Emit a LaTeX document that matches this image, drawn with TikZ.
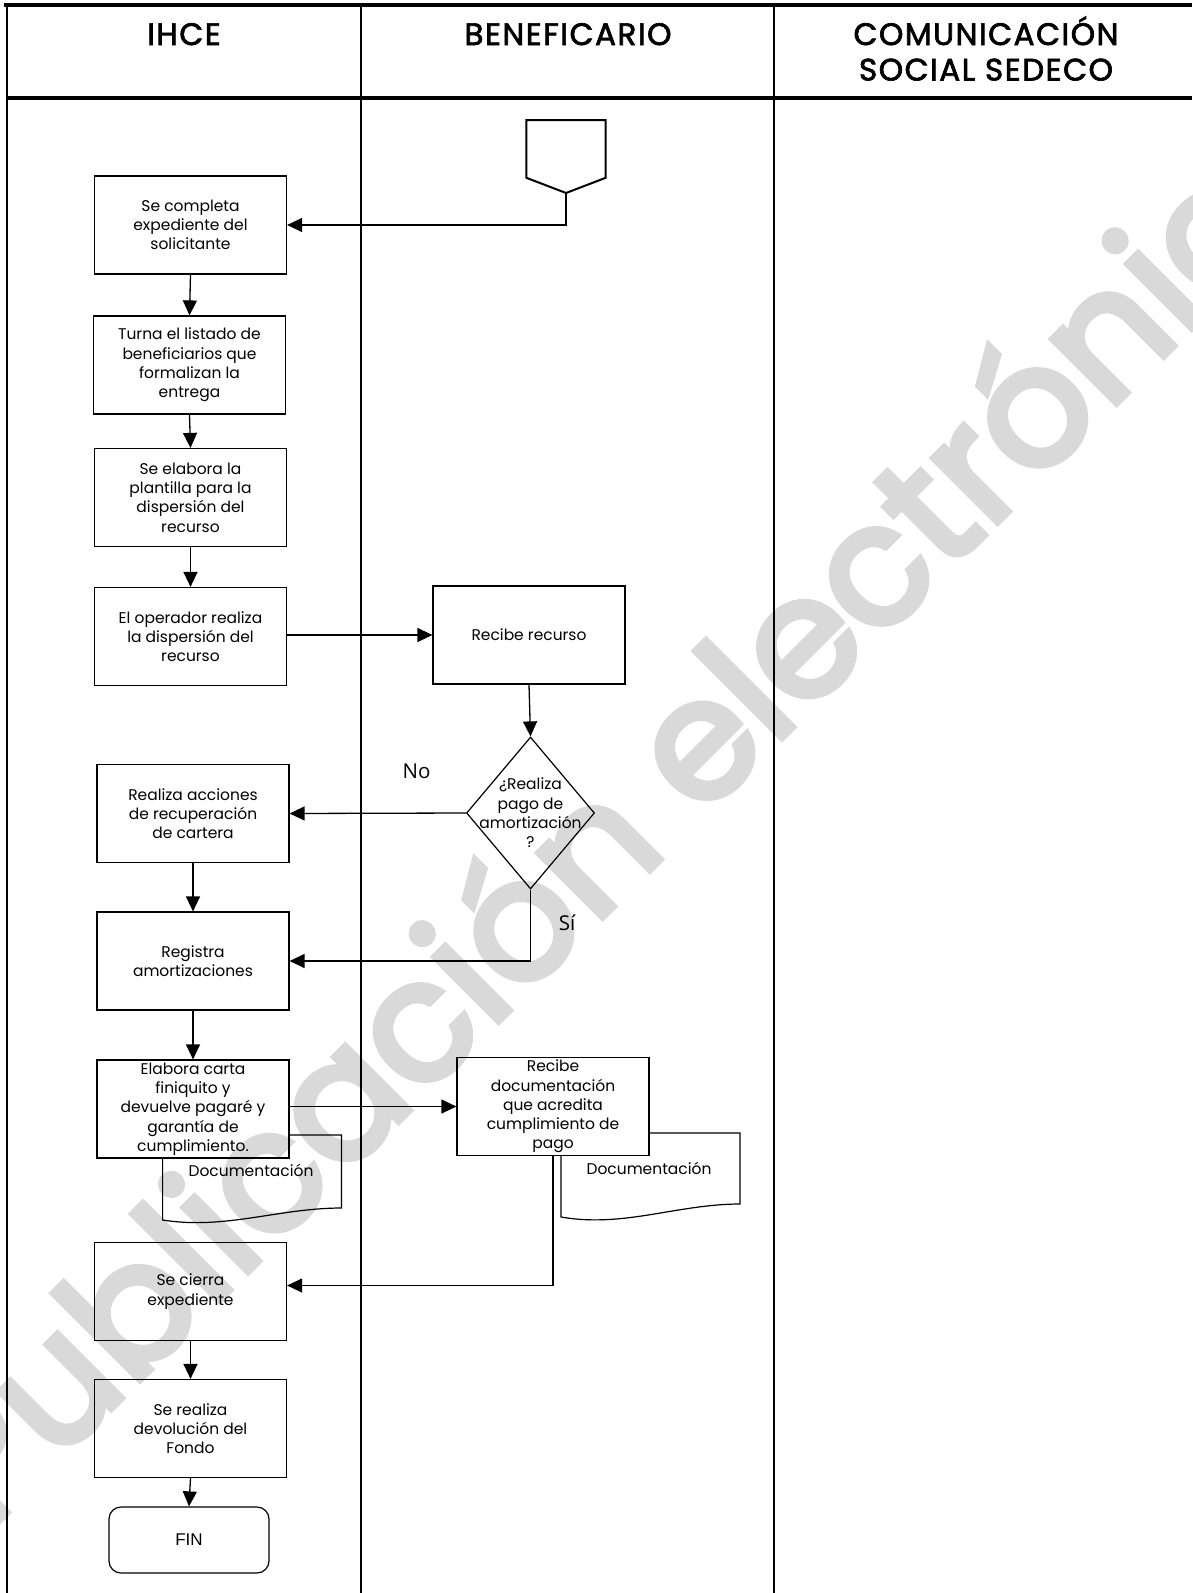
\documentclass[tikz,border=0pt]{standalone}
\usepackage{fontspec}
\setmainfont{Poppins}
\newfontfamily\hdrfont{Poppins}[FakeBold=2.2,LetterSpace=5]
\newfontfamily\lblfont{Open Sans}
\newfontfamily\finfont{Liberation Sans}
\newfontfamily\wmfam{Poppins}[FakeBold=4]
\usetikzlibrary{shapes.geometric,arrows.meta,calc}
\newcommand\bxfont{\fontsize{15.5}{19.3}\selectfont}
\newcommand\hdr{\hdrfont\fontsize{31}{36}\selectfont}
\newcommand\wmfont{\wmfam\fontsize{166}{166}\selectfont}
\begin{document}
\begin{tikzpicture}[x=1pt,y=-1pt,
  box/.style={draw, line width=1.2pt, fill=white, minimum width=192pt, minimum height=98pt, inner sep=0pt, align=center, font=\bxfont},
  arr/.style={line width=1.3pt, -{Triangle[length=15pt,width=14pt]}},
  lane/.style={line width=2.5pt},
  hlane/.style={line width=3.2pt},
  docline/.style={draw, line width=1.2pt, fill=white},
  hdrtext/.style={font=\hdr, anchor=base, inner sep=0pt},
  lbl/.style={font=\lblfont\fontsize{20.5}{24}\selectfont, inner sep=0pt}
]
\useasboundingbox (0,0) rectangle (1192,1593);
\clip (0,0) rectangle (1192,1593);
\fill[white] (0,0) rectangle (1192,1593);

% lanes
\draw[hlane] (4,5) -- (1192,5);
\draw[hlane] (7,98) -- (1192,98);
\draw[lane] (7,5) -- (7,1593);
\draw[lane] (361,5) -- (361,1593);
\draw[lane] (774,5) -- (774,1593);

\node[hdrtext] (h1) at (184,45) {IHCE};
\node[hdrtext] (h2) at (568,45) {BENEFICARIO};
\node[hdrtext] (h3a) at (986,45) {COMUNICACIÓN};
\node[hdrtext] (h3b) at (986,80.5) {SOCIAL SEDECO};

% start connector
\draw[line width=2pt, fill=white] (526.4,120) -- (605.7,120) -- (605.7,177.8) -- (566,193) -- (526.4,177.8) -- cycle;
\coordinate (st) at (566,193);

% documents (behind boxes)
\draw[docline] (162.6,1135) -- (341.4,1135) -- (341.4,1208)
  .. controls (278.8,1208) and (225.2,1230) .. (162.6,1220) -- cycle;
\draw[docline] (561,1133) -- (740,1133) -- (740,1204)
  .. controls (677.4,1204) and (623.6,1228) .. (561,1217) -- cycle;
\node[font=\bxfont] (dH) at (251,1170) {Documentación};
\node[font=\bxfont] (dI) at (649,1168) {Documentación};

% boxes
\node[box] (A) at (190.5,225) {Se completa\\expediente del\\solicitante};
\node[box] (B) at (189.5,365) {Turna el listado de\\beneficiarios que\\formalizan la\\entrega};
\node[box] (C) at (190.5,497.5) {Se elabora la\\plantilla para la\\dispersión del\\recurso};
\node[box] (D) at (190.5,636.5) {El operador realiza\\la dispersión del\\recurso};
\node[box] (E) at (529,635) {Recibe recurso};
\node[diamond, draw, line width=1.2pt, fill=white, minimum width=128pt, minimum height=152pt, inner sep=0pt] (Q) at (530.5,813) {};
\node[font=\bxfont, align=center, inner sep=0pt] (Qt) at (Q.center) {¿Realiza\\pago de\\amortización\\?};
\node[box] (F) at (193,813.5) {Realiza acciones\\de recuperación\\de cartera};
\node[box] (G) at (193,961) {Registra\\amortizaciones};
\node[box] (H) at (193,1109) {Elabora carta\\finiquito y\\devuelve pagaré y\\garantía de\\cumplimiento.};
\node[box] (I) at (553,1106.5) {Recibe\\documentación\\que acredita\\cumplimiento de\\pago};
\node[box] (J) at (190.5,1291.5) {Se cierra\\expediente};
\node[box] (K) at (190.5,1428.5) {Se realiza\\devolución del\\Fondo};
\node[draw, rounded corners=12pt, minimum width=160pt, minimum height=66pt, line width=1.2pt, font=\finfont\fontsize{17}{20}\selectfont] (fin) at (189,1540) {FIN};

\node[lbl] (no) at (416.6,771) {No};
\node[lbl] (si) at (567,923) {Sí};

% connectors
\draw[arr] (st) |- (A.east);
\draw[arr] (A.south) -- (B.north);
\draw[arr] (B.south) -- (C.north);
\draw[arr] (C.south) -- (D.north);
\draw[arr] (D.east |- E.west) -- (E.west);
\draw[arr] (E.south) -- (Q.north);
\draw[arr] (Q.west) -- (F.east);
\draw[arr] (Q.south) |- (G.east);
\draw[arr] (F.south) -- (G.north);
\draw[arr] (G.south) -- (H.north);
\draw[arr] (H.east |- I.west) -- (I.west);
\draw[arr] (I.south) |- ([yshift=6pt]J.east);
\draw[arr] (J.south) -- (K.north);
\draw[arr] (K.south) -- (fin.north);

% watermark
\begin{scope}[transparency group, opacity=0.15]
\node[font=\wmfont, text=black, rotate=45, anchor=base, inner sep=0pt] (wm) at (675,845) {Publicación electrónica};
\end{scope}
\end{tikzpicture}
\end{document}
